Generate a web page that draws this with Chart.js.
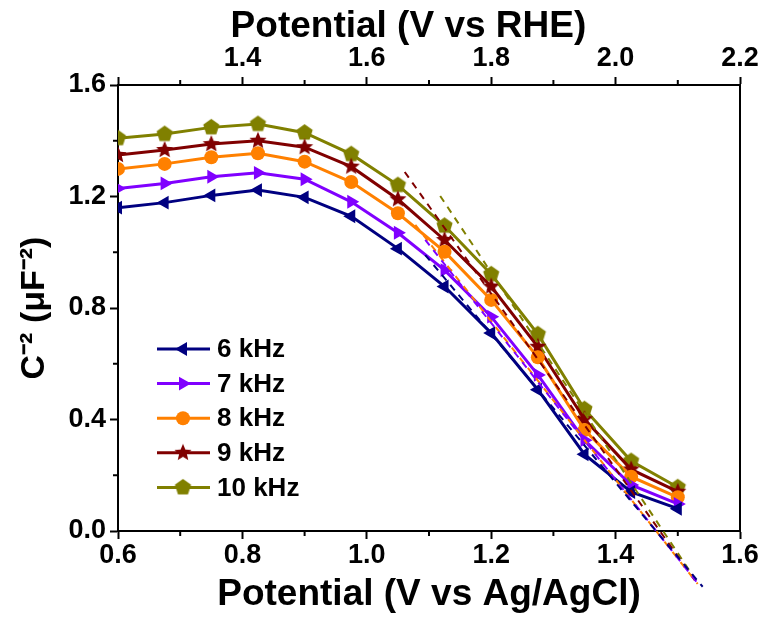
<!DOCTYPE html>
<html>
<head>
<meta charset="utf-8">
<script src="https://cdn.jsdelivr.net/npm/chart.js"></script>
<style>
  body { margin: 0; background: #fff; }
</style>
</head>
<body>
<canvas id="myChart" width="762" height="617"></canvas>
<script>
// potential vs Ag/AgCl (V)
const potential = [0.6, 0.675, 0.75, 0.825, 0.9, 0.975, 1.05, 1.125, 1.2, 1.275, 1.35, 1.425, 1.5];

// C^-2 values per frequency
const c6k  = [1.160, 1.178, 1.204, 1.223, 1.197, 1.129, 1.013, 0.877, 0.710, 0.507, 0.275, 0.140, 0.080];
const c7k  = [1.229, 1.247, 1.271, 1.285, 1.262, 1.181, 1.070, 0.936, 0.769, 0.560, 0.326, 0.165, 0.097];
const c8k  = [1.299, 1.317, 1.341, 1.355, 1.325, 1.252, 1.140, 1.002, 0.829, 0.623, 0.362, 0.195, 0.121];
const c9k  = [1.349, 1.367, 1.388, 1.400, 1.377, 1.307, 1.190, 1.044, 0.877, 0.661, 0.401, 0.221, 0.141];
const c10k = [1.409, 1.424, 1.448, 1.460, 1.429, 1.352, 1.241, 1.095, 0.921, 0.706, 0.437, 0.251, 0.157];

// linear fits (dashed), start and end points
const fit6kX  = [1.094, 1.540], fit6kY  = [0.990, -0.200];
const fit7kX  = [1.094, 1.535], fit7kY  = [1.044, -0.196];
const fit8kX  = [1.078, 1.532], fit8kY  = [1.098, -0.190];
const fit9kX  = [1.061, 1.530], fit9kY  = [1.288, -0.185];
const fit10kX = [1.118, 1.530], fit10kY = [1.202, -0.180];

const seriesNames = ['6 kHz', '7 kHz', '8 kHz', '9 kHz', '10 kHz'];

// tick labels
const xTicks = [0.6, 0.8, 1.0, 1.2, 1.4, 1.6];
const xMinor = [0.7, 0.9, 1.1, 1.3, 1.5];
const topTicks = [1.2, 1.4, 1.6, 1.8, 2.0, 2.2];
const topMinor = [1.3, 1.5, 1.7, 1.9, 2.1];
const yTicks = [0.0, 0.4, 0.8, 1.2, 1.6];
const yMinor = [0.2, 0.6, 1.0, 1.4];

const FONT = '"Liberation Sans", Arial, sans-serif';

function shape(color, n, r, inner) {
  const c = document.createElement('canvas');
  const s = Math.ceil(r * 2) + 2;
  c.width = s; c.height = s;
  const g = c.getContext('2d');
  g.fillStyle = color;
  g.beginPath();
  const k = inner ? n * 2 : n;
  for (let i = 0; i < k; i++) {
    const rr = (inner && i % 2) ? r * inner : r;
    const a = -Math.PI / 2 + i * 2 * Math.PI / k;
    g.lineTo(s / 2 + rr * Math.cos(a), s / 2 + rr * Math.sin(a));
  }
  g.closePath();
  g.fill();
  return c;
}

function pts(xs, ys) {
  return xs.map((x, i) => ({x: x, y: ys[i]}));
}

const colors = ['#000080', '#8000ff', '#ff8000', '#800000', '#808000'];
const values = [c6k, c7k, c8k, c9k, c10k];
const fits = [[fit6kX, fit6kY], [fit7kX, fit7kY], [fit8kX, fit8kY], [fit9kX, fit9kY], [fit10kX, fit10kY]];
const styles = [
  {pointStyle: 'triangle', pointRotation: -90, pointRadius: 8},
  {pointStyle: 'triangle', pointRotation: 90, pointRadius: 8},
  {pointStyle: 'circle', pointRotation: 0, pointRadius: 7},
  {pointStyle: shape(colors[3], 5, 9, 0.45), pointRotation: 0, pointRadius: 9},
  {pointStyle: shape(colors[4], 5, 8.5), pointRotation: 0, pointRadius: 9}
];

const datasets = [];
fits.forEach((f, i) => {
  datasets.push({
    data: pts(f[0], f[1]),
    borderColor: colors[i],
    borderWidth: 2,
    borderDash: [7, 6],
    pointRadius: 0,
    clip: false,
    fill: false
  });
});
values.forEach((v, i) => {
  datasets.push(Object.assign({
    label: seriesNames[i],
    data: pts(potential, v),
    borderColor: colors[i],
    backgroundColor: colors[i],
    borderWidth: 3,
    pointBorderWidth: 0,
    fill: false
  }, styles[i]));
});

const legendBox = {
  id: 'legendBox',
  afterDraw(chart) {
    const ctx = chart.ctx;
    ctx.save();
    seriesNames.forEach((name, i) => {
      const ds = chart.data.datasets[fits.length + i];
      const y = 349 + i * 34.6;
      ctx.strokeStyle = ds.borderColor;
      ctx.lineWidth = 3;
      ctx.beginPath(); ctx.moveTo(157, y); ctx.lineTo(210, y); ctx.stroke();
      ctx.fillStyle = ds.backgroundColor;
      Chart.helpers.drawPoint(ctx, {pointStyle: ds.pointStyle, radius: ds.pointRadius, rotation: ds.pointRotation, borderWidth: 0}, 183, y);
      ctx.fillStyle = '#000';
      ctx.font = 'bold 26px ' + FONT;
      ctx.textBaseline = 'middle';
      ctx.fillText(name, 217, y + 1);
    });
    ctx.restore();
  }
};

const minorTicks = {
  id: 'minorTicks',
  afterDraw(chart) {
    const {ctx, scales} = chart;
    ctx.save();
    ctx.strokeStyle = '#000';
    ctx.lineWidth = 2;
    const line = (a, b, c, d) => { ctx.beginPath(); ctx.moveTo(a, b); ctx.lineTo(c, d); ctx.stroke(); };
    xMinor.forEach(v => { const p = scales.x.getPixelForValue(v); line(p, scales.x.top, p, scales.x.top + 5); });
    topMinor.forEach(v => { const p = scales.x2.getPixelForValue(v); line(p, scales.x2.bottom, p, scales.x2.bottom - 5); });
    yMinor.forEach(v => { const p = scales.y.getPixelForValue(v); line(scales.y.right, p, scales.y.right - 5, p); });
    ctx.restore();
  }
};

function axisGrid() {
  return {drawOnChartArea: false, drawTicks: true, tickLength: 8, tickWidth: 2, tickColor: '#000'};
}
const border = {display: true, color: '#000', width: 2};

new Chart(document.getElementById('myChart'), {
  type: 'line',
  data: {datasets: datasets},
  options: {
    responsive: false,
    devicePixelRatio: 1,
    animation: false,
    layout: {padding: 0},
    plugins: {legend: {display: false}, tooltip: {enabled: false}},
    scales: {
      x: {
        type: 'linear', position: 'bottom', min: 0.6, max: 1.6,
        afterBuildTicks: s => { s.ticks = xTicks.map(v => ({value: v})); },
        afterFit: s => { s.height = 86; },
        ticks: {color: '#000', font: {family: FONT, size: 27, weight: 'bold'}, padding: 0, maxRotation: 0,
                callback: v => v.toFixed(1)},
        grid: axisGrid(), border: border,
        title: {display: true, text: 'Potential (V vs Ag/AgCl)', color: '#000',
                font: {family: FONT, size: 37, weight: 'bold'}, padding: {top: 0, bottom: 0}}
      },
      x2: {
        type: 'linear', position: 'top', min: 1.2, max: 2.2,
        afterBuildTicks: s => { s.ticks = topTicks.map(v => ({value: v})); },
        afterFit: s => { s.height = 85; },
        ticks: {color: '#000', font: {family: FONT, size: 27, weight: 'bold'}, padding: 2, maxRotation: 0,
                callback: v => v === 1.2 ? '' : v.toFixed(1)},
        grid: axisGrid(), border: border,
        title: {display: true, text: 'Potential (V vs RHE)    ', color: '#000',
                font: {family: FONT, size: 37, weight: 'bold'}, padding: {top: 5, bottom: 0}}
      },
      y: {
        type: 'linear', position: 'left', min: 0, max: 1.6,
        afterBuildTicks: s => { s.ticks = yTicks.map(v => ({value: v})); },
        afterFit: s => { s.width = 118; },
        ticks: {color: '#000', font: {family: FONT, size: 27, weight: 'bold'}, padding: 4,
                callback: v => v.toFixed(1)},
        grid: axisGrid(), border: border,
        title: {display: true, text: 'C\u207B\u00B2 (\u03BCF\u207B\u00B2)', color: '#000',
                font: {family: FONT, size: 34, weight: 'bold'}, padding: {top: 14, bottom: 0}}
      },
      y2: {
        type: 'linear', position: 'right', min: 0, max: 1.6,
        afterFit: s => { s.width = 22; },
        ticks: {display: false},
        grid: {drawOnChartArea: false, drawTicks: false},
        border: border
      }
    }
  },
  plugins: [legendBox, minorTicks]
});
</script>
</body>
</html>
